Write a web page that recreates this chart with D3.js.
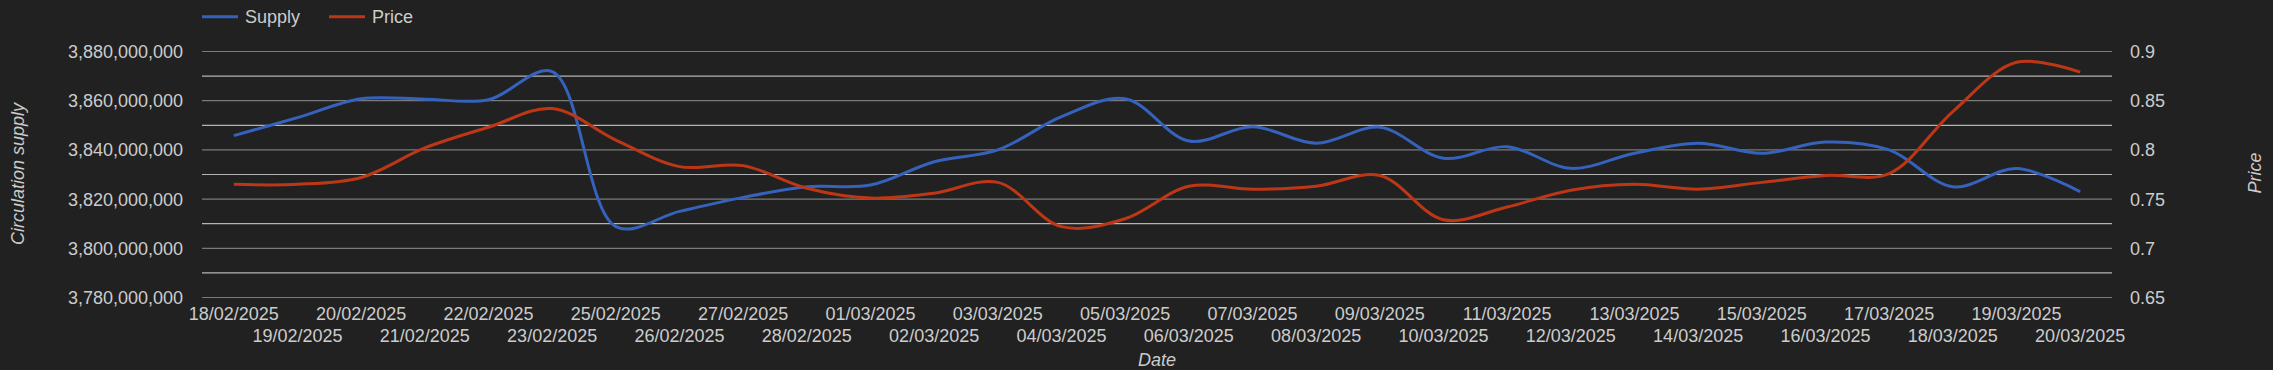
<!DOCTYPE html>
<html>
<head>
<meta charset="utf-8">
<script src="https://cdn.jsdelivr.net/npm/d3@7"></script>
<style>
html,body{margin:0;padding:0;background:#212121;}
svg{display:block;}
text{font-family:"Liberation Sans",Arial,sans-serif;font-size:18px;fill:#cccccc;}
</style>
</head>
<body>
<svg id="chart" width="2273" height="370"></svg>
<script>
const dates = ["18/02/2025","19/02/2025","20/02/2025","21/02/2025","22/02/2025","23/02/2025","25/02/2025","26/02/2025","27/02/2025","28/02/2025","01/03/2025","02/03/2025","03/03/2025","04/03/2025","05/03/2025","06/03/2025","07/03/2025","08/03/2025","09/03/2025","10/03/2025","11/03/2025","12/03/2025","13/03/2025","14/03/2025","15/03/2025","16/03/2025","17/03/2025","18/03/2025","19/03/2025","20/03/2025"];
const supply = [3845800000,3853100000,3860800000,3860600000,3860400000,3871800000,3808800000,3815000000,3820700000,3825000000,3825700000,3835200000,3840000000,3853500000,3860800000,3843600000,3849400000,3842700000,3849200000,3836600000,3841300000,3832500000,3838600000,3842700000,3838600000,3843200000,3840000000,3825000000,3832400000,3823000000];
const price = [0.765,0.765,0.772,0.802,0.823,0.842,0.810,0.783,0.784,0.761,0.751,0.756,0.767,0.722,0.730,0.763,0.760,0.763,0.774,0.729,0.742,0.759,0.765,0.760,0.767,0.774,0.776,0.839,0.889,0.879];
const leftTicks = [3780000000,3800000000,3820000000,3840000000,3860000000,3880000000];
const leftGrid = [3780000000,3790000000,3800000000,3810000000,3820000000,3830000000,3840000000,3850000000,3860000000,3870000000,3880000000];
const rightTicks = [0.65,0.7,0.75,0.8,0.85,0.9];
const rightTickLabels = ["0.65","0.7","0.75","0.8","0.85","0.9"];
const seriesNames = ["Supply","Price"];
const seriesColors = ["#3562bd","#bd3716"];

const svg = d3.select("#chart");
const L = 202, R = 2112, T = 51.5, B = 297.5;

const x = d3.scalePoint().domain(dates).range([L, R]).padding(0.5);
const yL = d3.scaleLinear().domain([3780000000, 3880000000]).range([B, T]);
const yR = d3.scaleLinear().domain([0.65, 0.9]).range([B, T]);

// gridlines
svg.append("g").selectAll("line").data(leftGrid).join("line")
  .attr("x1", L).attr("x2", R)
  .attr("y1", d => yL(d)).attr("y2", d => yL(d))
  .attr("stroke", (d, i) => i % 2 === 0 ? "#7a7a7a" : "#b4b4b4")
  .attr("stroke-width", 1.2);

// left axis labels
const fmt = d3.format(",");
svg.append("g").selectAll("text").data(leftTicks).join("text")
  .attr("x", 183).attr("y", d => yL(d))
  .attr("dy", "0.36em")
  .attr("text-anchor", "end")
  .text(d => fmt(d));

// right axis labels
svg.append("g").selectAll("text").data(rightTicks).join("text")
  .attr("x", 2130).attr("y", d => yR(d))
  .attr("dy", "0.36em")
  .attr("text-anchor", "start")
  .text((d, i) => rightTickLabels[i]);

// x labels (two staggered rows)
svg.append("g").selectAll("text").data(dates).join("text")
  .attr("x", d => x(d))
  .attr("y", (d, i) => i % 2 === 0 ? 319.5 : 342)
  .attr("text-anchor", "middle")
  .text(d => d);

// axis titles
svg.append("text").attr("x", 1157).attr("y", 366).attr("text-anchor", "middle")
  .style("font-style", "italic").text("Date");
svg.append("text").attr("transform", "translate(24,174) rotate(-90)")
  .attr("text-anchor", "middle").style("font-style", "italic").text("Circulation supply");
svg.append("text").attr("transform", "translate(2261,173) rotate(-90)")
  .attr("text-anchor", "middle").style("font-style", "italic").text("Price");

// lines
const curve = d3.curveCatmullRom.alpha(0.5);
const lineS = d3.line().x((d, i) => x(dates[i])).y(d => yL(d)).curve(curve);
const lineP = d3.line().x((d, i) => x(dates[i])).y(d => yR(d)).curve(curve);
svg.append("path").datum(supply).attr("d", lineS)
  .attr("fill", "none").attr("stroke", seriesColors[0]).attr("stroke-width", 3);
svg.append("path").datum(price).attr("d", lineP)
  .attr("fill", "none").attr("stroke", seriesColors[1]).attr("stroke-width", 3);

// legend
const legX = [202, 329];
const lg = svg.append("g");
seriesNames.forEach((n, i) => {
  lg.append("line").attr("x1", legX[i]).attr("x2", legX[i] + 36)
    .attr("y1", 16.7).attr("y2", 16.7)
    .attr("stroke", seriesColors[i]).attr("stroke-width", 3);
  lg.append("text").attr("x", legX[i] + 43).attr("y", 23).text(n);
});
</script>
</body>
</html>
